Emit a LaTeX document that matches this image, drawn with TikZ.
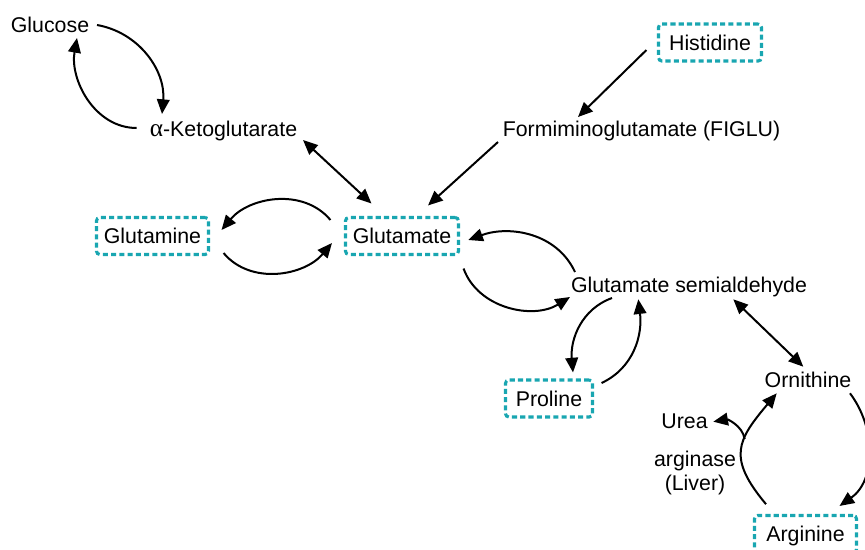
\documentclass[tikz,border=0pt]{standalone}
\usepackage{fontspec}
\setmainfont{Liberation Sans}
\newfontfamily\greekf{Liberation Serif}
\usetikzlibrary{arrows.meta,calc}
\definecolor{boxteal}{HTML}{19A6B1}
\begin{document}
\begin{tikzpicture}[x=0.75pt,y=0.75pt,
  lbl/.style={font=\fontsize{16}{18}\selectfont, inner sep=0pt, text height=11.5pt, text depth=0pt},
  aabox/.style={lbl, draw=boxteal, line width=2.3pt, dash pattern=on 3.8pt off 2.4pt, rounded corners=2.5pt, minimum height=27.75pt},
  conn/.style={line width=1.5pt, -{Triangle[length=11pt,width=9.5pt]}},
  dconn/.style={line width=1.5pt, {Triangle[length=11pt,width=9.5pt]}-{Triangle[length=11pt,width=9.5pt]}}]
\useasboundingbox (0,0) rectangle (865,-550);

\node[lbl] (glucose) at (50,-25) {Glucose};
\node[lbl] (akg) at (223.5,-129) {{\greekf\fontsize{19}{18}\selectfont α}-Ketoglutarate};
\node[lbl] (figlu) at (641.5,-129) {Formiminoglutamate (FIGLU)};
\node[aabox, minimum width=77.25pt] (his) at (710,-42.5) {Histidine};
\node[aabox, minimum width=84pt] (gln) at (152.5,-236) {Glutamine};
\node[aabox, minimum width=84.75pt] (glu) at (402,-236) {Glutamate};
\node[lbl] (gsa) at (689,-285) {Glutamate semialdehyde};
\node[aabox, minimum width=65.25pt] (pro) at (549,-398.5) {Proline};
\node[lbl] (orn) at (808,-380) {Ornithine};
\node[lbl] (urea) at (684.5,-420.5) {Urea};
\node[font=\fontsize{16}{18}\selectfont, align=center, inner sep=0pt] (arginase) at (695,-473) {arginase\\(Liver)};
\node[aabox, minimum width=76.5pt] (arg) at (805.5,-534) {Arginine};

% Glucose <-> alpha-KG
\draw[conn] ($(glucose)+(47,0)$) to[out=-10,in=85] ($(akg)+(-61.5,15)$);
\draw[conn] ($(akg)+(-86.8,1)$) to[out=180,in=-100] ($(glucose)+(27,-13)$);
% alpha-KG <-> Glutamate
\draw[dconn] ($(akg)+(79.5,-11)$) -- ($(glu.north west)+(27.5,12.5)$);
% Histidine -> FIGLU -> Glutamate
\draw[conn] ($(his.west)+(-10.5,-7.5)$) -- ($(figlu)+(-63.5,12)$);
\draw[conn] ($(figlu)+(-143.5,-13)$) -- ($(glu.north)+(26,10.5)$);
% Glutamate <-> Glutamine
\draw[conn] ($(glu.west)+(-13.5,16)$) to[out=130,in=50] ($(gln.east)+(11.5,6)$);
\draw[conn] ($(gln.east)+(13.5,-17)$) to[out=-50,in=-130] ($(glu.west)+(-12,-7)$);
% GSA <-> Glutamate
\draw[conn] ($(gsa)+(-114,13)$) to[out=115,in=20] ($(glu.east)+(8.2,-4)$);
\draw[conn] ($(glu.south east)+(3.5,-12.5)$) to[out=-70,in=-148] ($(gsa)+(-119,-12)$);
% GSA <-> Proline
\draw[conn] ($(gsa)+(-77,-13)$) to[out=200,in=95] ($(pro.north)+(24,6)$);
\draw[conn] ($(pro.east)+(7.5,15.5)$) to[out=25,in=-83] ($(gsa)+(-50.7,-14.3)$);
% GSA <-> Ornithine
\draw[dconn] ($(gsa)+(44.3,-14.3)$) -- ($(orn)+(-4.7,13.3)$);
% Ornithine <-> Arginine
\draw[conn] ($(orn)+(42,-13.3)$) to[out=-53,in=35] ($(arg.north)+(34,8)$);
\draw[conn] ($(arg.north)+(-39.5,9.8)$) to[out=130,in=-130,looseness=1.4] coordinate[pos=0.6] (br) ($(orn)+(-31.3,-13.3)$);
% branch to Urea
\draw[conn] (br) to[out=100,in=10] ($(urea)+(28.8,-1.2)$);
\end{tikzpicture}
\end{document}
